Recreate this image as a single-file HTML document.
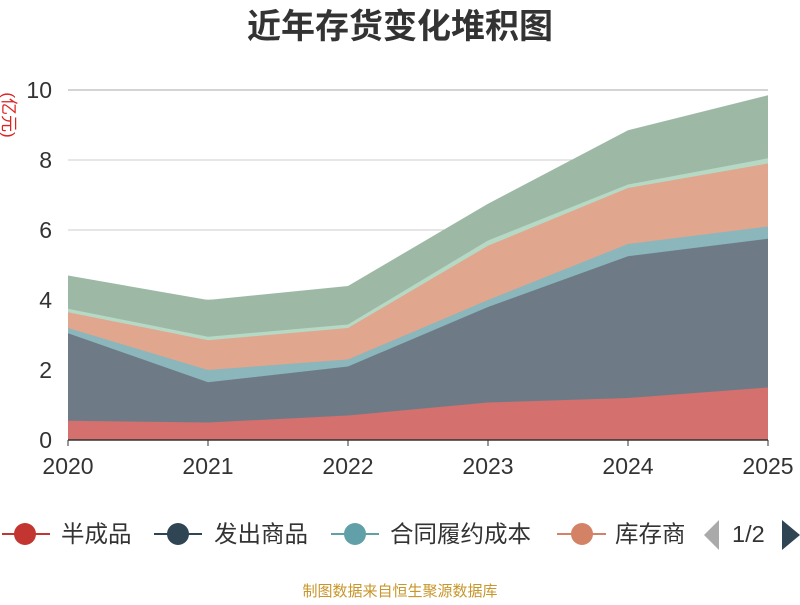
<!DOCTYPE html>
<html><head><meta charset="utf-8"><style>
body{margin:0;background:#fff;}
svg text{font-family:"Liberation Sans","Noto Sans CJK SC",sans-serif;}
</style></head><body>
<svg width="800" height="600" viewBox="0 0 800 600">
<text x="400" y="38" text-anchor="middle" font-size="34" font-weight="bold" fill="#333">近年存货变化堆积图</text>
<g stroke="#ccc" stroke-width="1">
<line x1="68" y1="90" x2="768" y2="90" stroke="#aaa"/><line x1="68" y1="160" x2="768" y2="160"/>
<line x1="68" y1="230" x2="768" y2="230"/><line x1="68" y1="300" x2="768" y2="300"/>
<line x1="68" y1="370" x2="768" y2="370"/>
</g>
<polygon fill="#9db9a6" points="68,275.5 208,300 348,286 488,203.75 628,130.25 768,95.25 768,440 68,440"/>
<polygon fill="#b5d9c5" points="68,308.75 208,336.75 348,324.5 488,240.5 628,184.5 768,158.25 768,440 68,440"/>
<polygon fill="#e0a68e" points="68,312.25 208,340.25 348,328 488,245.75 628,188 768,163.5 768,440 68,440"/>
<polygon fill="#8ab6bc" points="68,328 208,370 348,359.5 488,300 628,244 768,226.5 768,440 68,440"/>
<polygon fill="#6e7b86" points="68,333.25 208,382.25 348,366.5 488,307 628,256.25 768,238.75 768,440 68,440"/>
<polygon fill="#d4706d" points="68,420.75 208,422.5 348,415.5 488,402.5 628,398 768,387.5 768,440 68,440"/>
<line x1="68" y1="440" x2="768" y2="440" stroke="#333" stroke-width="1.5"/>
<g stroke="#333"><line x1="68" y1="440" x2="68" y2="446"/><line x1="208" y1="440" x2="208" y2="446"/><line x1="348" y1="440" x2="348" y2="446"/><line x1="488" y1="440" x2="488" y2="446"/><line x1="628" y1="440" x2="628" y2="446"/><line x1="768" y1="440" x2="768" y2="446"/></g>
<g font-size="23" fill="#333" text-anchor="end">
<text x="52" y="98">10</text><text x="52" y="168">8</text><text x="52" y="238">6</text><text x="52" y="308">4</text><text x="52" y="378">2</text><text x="52" y="448">0</text>
</g>
<g font-size="23" fill="#333" text-anchor="middle">
<text x="68" y="474">2020</text><text x="208" y="474">2021</text><text x="348" y="474">2022</text><text x="488" y="474">2023</text><text x="628" y="474">2024</text><text x="768" y="474">2025</text>
</g>
<text transform="translate(3,115) rotate(90)" font-size="17" fill="#d22" text-anchor="middle">(亿元)</text>
<g font-size="23.5" fill="#333">
<line x1="2" y1="534" x2="50" y2="534" stroke="#c23531" stroke-width="2"/><circle cx="25" cy="534" r="11" fill="#c23531"/>
<text x="61" y="542">半成品</text>
<line x1="154" y1="534" x2="202" y2="534" stroke="#2f4554" stroke-width="2"/><circle cx="178" cy="534" r="11" fill="#2f4554"/>
<text x="214" y="542">发出商品</text>
<line x1="331" y1="534" x2="379" y2="534" stroke="#61a0a8" stroke-width="2"/><circle cx="355" cy="534" r="11" fill="#61a0a8"/>
<text x="390" y="542">合同履约成本</text>
<line x1="557" y1="534" x2="606" y2="534" stroke="#d48265" stroke-width="2"/><circle cx="582" cy="534" r="11" fill="#d48265"/>
<text x="615" y="542">库存商</text>
<rect x="684" y="515" width="20" height="35" fill="#fff"/>
<polygon points="719,520 719,550 704,535" fill="#aaa"/>
<text x="732" y="542">1/2</text>
<polygon points="782,520 782,550 800,535" fill="#2f4554"/>
</g>
<text x="400" y="596" text-anchor="middle" font-size="15" fill="#c8962a">制图数据来自恒生聚源数据库</text>
</svg>
</body></html>
